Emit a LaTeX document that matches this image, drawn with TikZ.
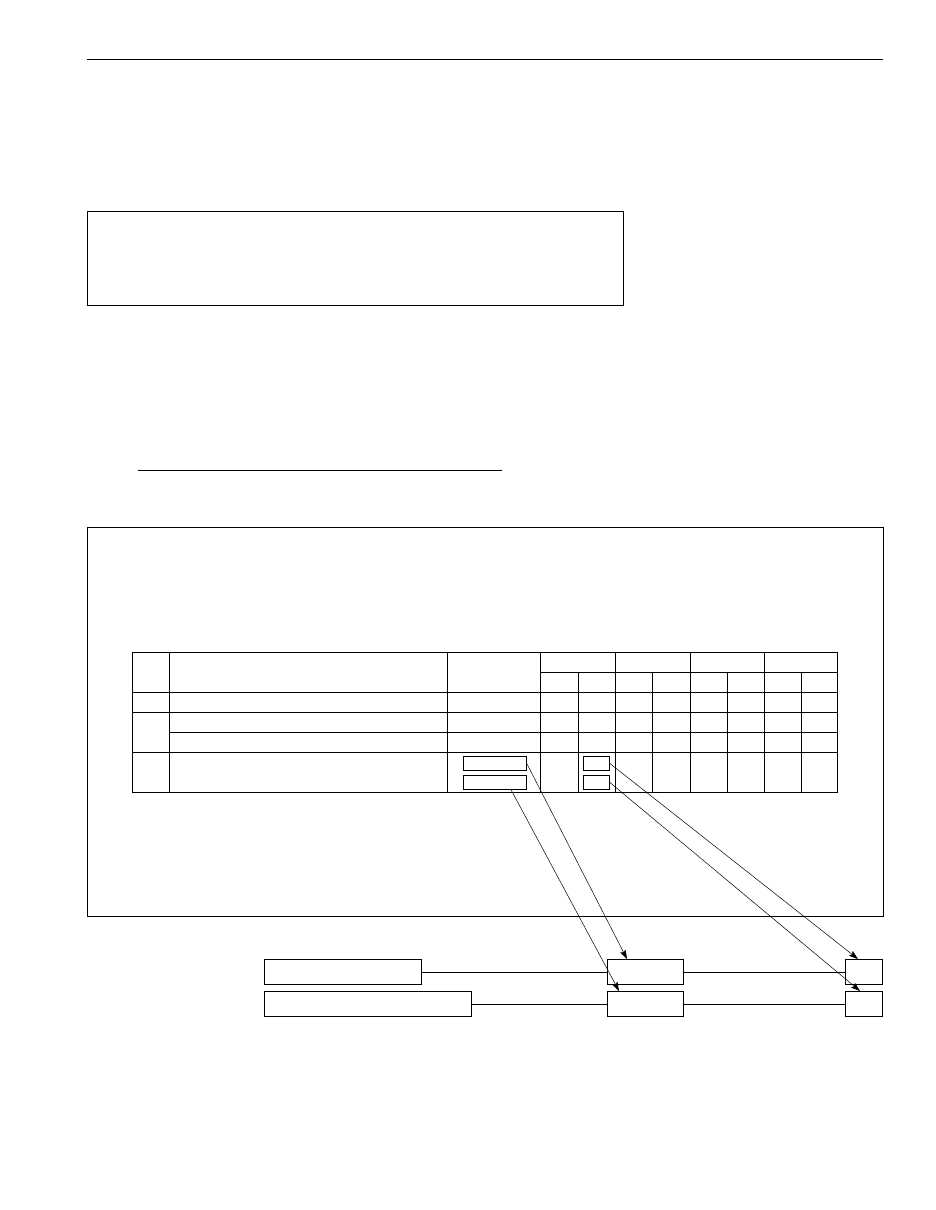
\documentclass[tikz,border=0pt]{standalone}
\usetikzlibrary{arrows.meta}
\begin{document}
\begin{tikzpicture}[x=1pt,y=-1pt,line width=0.7pt,
  box/.style={draw, inner sep=0pt, anchor=north west, minimum height=25pt},
  cellbox/.style={draw, inner sep=0pt, anchor=north west, minimum height=14pt},
  arr/.style={-{Stealth[length=9pt,width=6pt,inset=1.5pt]}, line width=0.5pt}]
\useasboundingbox (0,0) rectangle (935,1210);
\draw[line width=1pt] (87,59)--(883,59);
\draw (87,211) rectangle (623,305);
\draw (138,470)--(502,470);
\draw (87,527) rectangle (883,916);
% table
\draw[line width=1pt] (132,652) rectangle (837,792);
\draw (132,692)--(837,692);
\draw (132,712)--(837,712);
\draw (169,732)--(837,732);
\draw (132,752)--(837,752);
\draw (540,672)--(837,672);
\foreach \x in {169,447,540,615,690,764} \draw (\x,652)--(\x,792);
\foreach \x in {578,652,727,801} \draw (\x,672)--(\x,792);
% boxes in the last row
\node[cellbox, minimum width=63pt] (r1) at (463,756) {};
\node[cellbox, minimum width=63pt] (r2) at (463,775) {};
\node[cellbox, minimum width=26pt] (s1) at (583,756) {};
\node[cellbox, minimum width=26pt] (s2) at (583,775) {};
% boxes below
\node[box, minimum width=157pt] (a1) at (264,959) {};
\node[box, minimum width=76pt] (b1) at (607,959) {};
\node[box, minimum width=37pt] (c1) at (845,959) {};
\node[box, minimum width=207pt] (a2) at (264,991) {};
\node[box, minimum width=76pt] (b2) at (607,991) {};
\node[box, minimum width=37pt] (c2) at (845,991) {};
\draw (a1.east)--(b1.west) (b1.east)--(c1.west);
\draw (a2.east)--(b2.west) (b2.east)--(c2.west);
\draw[arr] (r1.east)--([xshift=20pt]b1.north west);
\draw[arr] ([xshift=48pt]r2.south west)--([xshift=12pt]b2.north west);
\draw[arr] (s1.east)--([xshift=13pt]c1.north west);
\draw[arr] (s2.east)--([xshift=15pt]c2.north west);
\end{tikzpicture}
\end{document}
